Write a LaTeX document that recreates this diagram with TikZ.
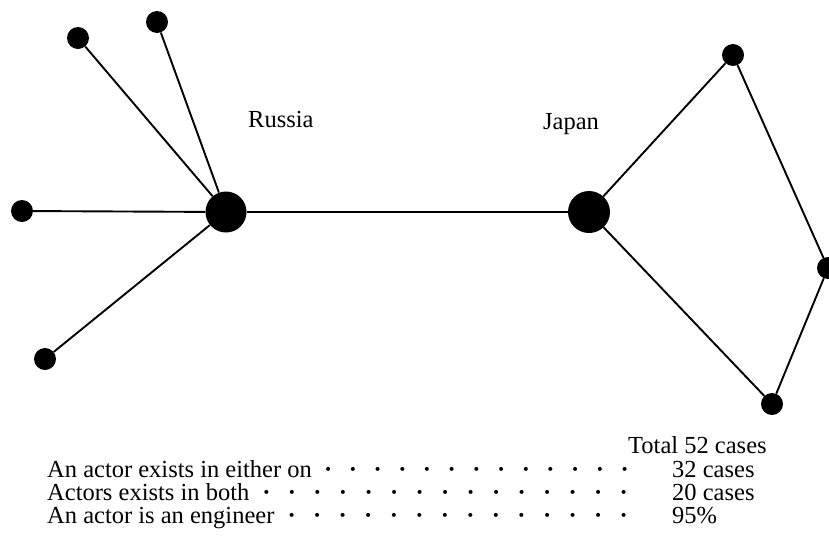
\documentclass[tikz,border=0pt]{standalone}
\usepackage{fontspec}
\setmainfont{Liberation Serif}
\begin{document}
\begin{tikzpicture}[x=1pt,y=-1pt,
  hub/.style={circle,fill=black,inner sep=0pt,minimum size=41pt},
  leaf/.style={circle,fill=black,inner sep=0pt,minimum size=22pt},
  link/.style={line width=1.9pt},
  lbl/.style={inner sep=0pt,anchor=base west,font=\fontsize{24.5}{24}\selectfont},
  rowtxt/.style={inner sep=0pt,anchor=base west,font=\fontsize{24.5}{24}\selectfont}]
\useasboundingbox (0,0) rectangle (829,536);
% nodes
\node[hub] (ru) at (226,212) {};
\node[hub,minimum size=42pt] (jp) at (589,212) {};
\node[leaf] (r1) at (78,38) {};
\node[leaf] (r2) at (157,22) {};
\node[leaf] (r3) at (22,211) {};
\node[leaf] (r4) at (45,359) {};
\node[leaf] (j1) at (733,55) {};
\node[leaf] (j2) at (828,268) {};
\node[leaf] (j3) at (772,404) {};
% connectors
\draw[link] (ru) -- (r1);
\draw[link] (ru) -- (r2);
\draw[link] (ru) -- (r3);
\draw[link] (ru) -- (r4);
\draw[link,line width=2.3pt] (ru) -- (jp);
\draw[link] (jp) -- (j1);
\draw[link] (j1) -- (j2);
\draw[link] (j2) -- (j3);
\draw[link] (j3) -- (jp);
% labels
\node[lbl] (tru) at (248,127) {Russia};
\node[lbl] (tjp) at (543,129) {Japan};
% table
\newcommand{\ldr}{\hspace{4pt}\xleaders\hbox to 24.6pt{\hss\textbf{·}\hss}\hfill}
\node[rowtxt] (tot) at (628,453) {Total 52 cases};
\node[rowtxt] (a1) at (47,477) {\makebox[590pt][l]{An actor exists in either on\ldr}};
\node[rowtxt] (a2) at (47,500) {\makebox[590pt][l]{Actors exists in both\ldr}};
\node[rowtxt] (a3) at (47,523) {\makebox[590pt][l]{An actor is an engineer\ldr}};
\node[rowtxt] (b1) at (672,477) {32 cases};
\node[rowtxt] (b2) at (672,500) {20 cases};
\node[rowtxt] (b3) at (672,523) {95\%};
\end{tikzpicture}
\end{document}
